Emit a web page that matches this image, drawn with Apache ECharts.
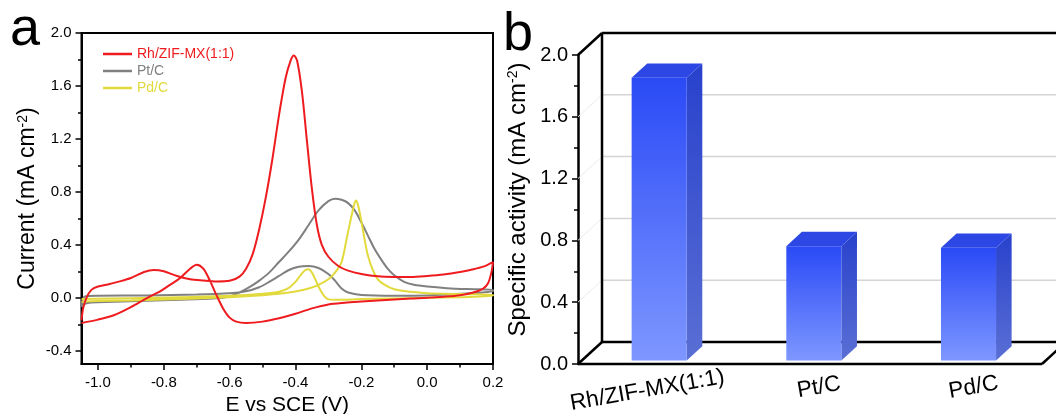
<!DOCTYPE html>
<html>
<head>
<meta charset="utf-8">
<script src="https://cdn.jsdelivr.net/npm/echarts@6/dist/echarts.min.js"></script>
<style>
  html, body { margin: 0; padding: 0; background: #fff; }
  #chart { width: 1056px; height: 414px; }
</style>
</head>
<body>
<div id="chart"></div>
<script>
// ---- CV data: potential (V vs SCE), current density (mA cm-2) ----
const seriesNames = ['Rh/ZIF-MX(1:1)', 'Pt/C', 'Pd/C'];

const rhForward = [
  [-1.05, -0.17], [-1.045, -0.08], [-1.035, 0.0], [-1.02, 0.06], [-1.0, 0.085],
  [-0.97, 0.10], [-0.94, 0.12], [-0.90, 0.15], [-0.86, 0.195], [-0.83, 0.21],
  [-0.80, 0.20], [-0.76, 0.165], [-0.72, 0.14], [-0.68, 0.13], [-0.64, 0.123],
  [-0.60, 0.128], [-0.57, 0.16], [-0.55, 0.22], [-0.53, 0.33], [-0.51, 0.52],
  [-0.49, 0.76], [-0.47, 1.05], [-0.45, 1.38], [-0.43, 1.66], [-0.415, 1.79],
  [-0.405, 1.83], [-0.395, 1.79], [-0.38, 1.55], [-0.365, 1.18], [-0.35, 0.82],
  [-0.335, 0.55], [-0.32, 0.40], [-0.30, 0.31], [-0.27, 0.24], [-0.24, 0.205],
  [-0.20, 0.18], [-0.15, 0.162], [-0.10, 0.158], [-0.05, 0.158], [0.0, 0.165],
  [0.05, 0.176], [0.10, 0.195], [0.14, 0.215], [0.17, 0.235], [0.20, 0.27]
];
const rhReverse = [
  [0.20, 0.27], [0.195, 0.19], [0.185, 0.11], [0.17, 0.07], [0.14, 0.04],
  [0.10, 0.02], [0.05, 0.008], [0.0, 0.0], [-0.05, -0.005], [-0.10, -0.012],
  [-0.15, -0.02], [-0.20, -0.028], [-0.25, -0.037], [-0.30, -0.05], [-0.35, -0.08],
  [-0.40, -0.12], [-0.45, -0.155], [-0.50, -0.18], [-0.55, -0.19], [-0.58, -0.18],
  [-0.60, -0.15], [-0.62, -0.08], [-0.64, 0.02], [-0.66, 0.13], [-0.68, 0.22],
  [-0.70, 0.25], [-0.72, 0.22], [-0.75, 0.15], [-0.78, 0.10], [-0.81, 0.05],
  [-0.85, 0.0], [-0.90, -0.07], [-0.95, -0.13], [-1.0, -0.165], [-1.05, -0.19]
];

const ptForward = [
  [-1.05, -0.07], [-1.04, -0.045], [-1.02, -0.035], [-0.95, -0.03], [-0.85, -0.022],
  [-0.75, -0.015], [-0.65, -0.005], [-0.60, 0.01], [-0.57, 0.04], [-0.54, 0.08],
  [-0.51, 0.13], [-0.48, 0.19], [-0.45, 0.27], [-0.42, 0.35], [-0.39, 0.44],
  [-0.36, 0.55], [-0.33, 0.66], [-0.30, 0.73], [-0.28, 0.748], [-0.26, 0.74],
  [-0.24, 0.715], [-0.22, 0.66], [-0.20, 0.57], [-0.18, 0.47], [-0.16, 0.37],
  [-0.14, 0.29], [-0.12, 0.22], [-0.10, 0.17], [-0.07, 0.12], [-0.04, 0.098],
  [0.0, 0.085], [0.06, 0.073], [0.12, 0.066], [0.20, 0.06]
];
const ptReverse = [
  [0.20, 0.05], [0.10, 0.03], [0.0, 0.018], [-0.10, 0.016], [-0.20, 0.022],
  [-0.24, 0.04], [-0.26, 0.07], [-0.28, 0.13], [-0.30, 0.18], [-0.33, 0.225],
  [-0.36, 0.24], [-0.39, 0.235], [-0.42, 0.21], [-0.45, 0.165], [-0.48, 0.12],
  [-0.51, 0.08], [-0.55, 0.05], [-0.60, 0.035], [-0.70, 0.025], [-0.85, 0.018],
  [-1.0, 0.015], [-1.04, 0.01], [-1.05, -0.07]
];

const pdForward = [
  [-1.05, -0.03], [-1.0, -0.025], [-0.9, -0.02], [-0.8, -0.012], [-0.7, -0.005],
  [-0.6, 0.005], [-0.5, 0.02], [-0.45, 0.03], [-0.40, 0.048], [-0.36, 0.07],
  [-0.33, 0.098], [-0.30, 0.14], [-0.28, 0.19], [-0.26, 0.27], [-0.245, 0.44],
  [-0.235, 0.56], [-0.225, 0.67], [-0.217, 0.735], [-0.21, 0.70], [-0.20, 0.58],
  [-0.19, 0.44], [-0.18, 0.32], [-0.165, 0.21], [-0.15, 0.14], [-0.13, 0.10],
  [-0.10, 0.065], [-0.05, 0.045], [0.0, 0.035], [0.10, 0.028], [0.20, 0.023]
];
const pdReverse = [
  [0.20, 0.015], [0.10, 0.005], [0.0, 0.0], [-0.10, -0.005], [-0.20, -0.01],
  [-0.28, -0.015], [-0.30, -0.012], [-0.31, 0.005], [-0.32, 0.04], [-0.33, 0.085],
  [-0.34, 0.14], [-0.35, 0.19], [-0.36, 0.215], [-0.37, 0.21], [-0.385, 0.17],
  [-0.40, 0.12], [-0.42, 0.075], [-0.45, 0.045], [-0.50, 0.03], [-0.60, 0.015],
  [-0.75, 0.005], [-0.9, -0.003], [-1.05, -0.01]
];

const potentialTicks = [-1.0, -0.8, -0.6, -0.4, -0.2, 0.0, 0.2];
const potentialMinorTicks = [-0.9, -0.7, -0.5, -0.3, -0.1, 0.1];
const currentTicks = [-0.4, 0.0, 0.4, 0.8, 1.2, 1.6, 2.0];
const currentMinorTicks = [-0.2, 0.2, 0.6, 1.0, 1.4, 1.8];

// ---- specific activity bars ----
const catalysts = ['Rh/ZIF-MX(1:1)', 'Pt/C', 'Pd/C'];
const specificActivity = [1.83, 0.74, 0.73];
const wallGridValues = [0.4, 0.8, 1.2, 1.6];

const FONT = '"Liberation Sans", Arial, sans-serif';
const RED = '#ee1b1f', GRAY = '#808080', YELLOW = '#e2da3c';

// depth offset of the pseudo-3D box and the bar's depth span inside it
const DX = 24, DY = -22;
const D0 = 0.16, D1 = 0.81;

function line(ax, ay, bx, by, style) {
  return { type: 'line', shape: { x1: ax, y1: ay, x2: bx, y2: by }, style: style };
}

function renderFrame(params, api) {
  const cs = params.coordSys;
  const x0 = cs.x, y0 = cs.y, x1 = cs.x + cs.width, yb = cs.y + cs.height;
  const W = api.getWidth();
  const dark = { stroke: '#000', lineWidth: 2.5 };
  const kids = [];
  wallGridValues.forEach(function (v) {
    const y = api.coord([0, v])[1];
    kids.push(line(x0, y, x0 + DX, y + DY, { stroke: '#ececec', lineWidth: 1 }));
    kids.push(line(x0 + DX, y + DY, W, y + DY, { stroke: '#d4d4d4', lineWidth: 1.5 }));
  });
  kids.push(line(x0 + DX, y0 + DY, W, y0 + DY, dark));
  kids.push(line(x0 + DX, y0 + DY, x0 + DX, yb + DY, dark));
  kids.push(line(x0, y0, x0 + DX, y0 + DY, dark));
  kids.push(line(x0, yb, x0 + DX, yb + DY, dark));
  kids.push(line(x0 + DX, yb + DY, W, yb + DY, dark));
  kids.push(line(x0, yb, x1, yb, dark));
  kids.push(line(x1, yb, x1 + DX, yb + DY, dark));
  return { type: 'group', children: kids };
}

function grad(c0, c1) {
  return { type: 'linear', x: 0, y: 0, x2: 0, y2: 1,
    colorStops: [{ offset: 0, color: c0 }, { offset: 1, color: c1 }] };
}

function renderBar(params, api) {
  const idx = api.value(0), val = api.value(1);
  const base = api.coord([idx, 0]);
  const top = api.coord([idx, val]);
  const bw = api.size([1, 0])[0] * 0.356;
  const fx = base[0] - bw / 2 + D0 * DX;
  const fy0 = base[1] + D0 * DY, fy1 = top[1] + D0 * DY;
  const ddx = (D1 - D0) * DX, ddy = (D1 - D0) * DY;
  return {
    type: 'group',
    children: [
      { type: 'polygon',
        shape: { points: [[fx + bw, fy1], [fx + bw + ddx, fy1 + ddy], [fx + bw + ddx, fy0 + ddy], [fx + bw, fy0]] },
        style: { fill: grad('#2841cc', '#5a6fd4') } },
      { type: 'polygon',
        shape: { points: [[fx, fy1], [fx + bw, fy1], [fx + bw + ddx, fy1 + ddy], [fx + ddx, fy1 + ddy]] },
        style: { fill: '#2c47e4' } },
      { type: 'rect',
        shape: { x: fx, y: fy1, width: bw, height: fy0 - fy1 },
        style: { fill: grad('#2a4af6', '#7e97ff') } }
    ]
  };
}

const axisBlack = { onZero: false, lineStyle: { color: '#000', width: 2 } };
const supRich = { sup: { fontSize: 14, verticalAlign: 'top', fontFamily: FONT, color: '#000' } };

const option = {
  animation: false,
  backgroundColor: '#fff',
  textStyle: { fontFamily: FONT },
  graphic: [
    { type: 'text', x: 10, y: 30, style: { text: 'a', fontSize: 54, fontFamily: FONT, fill: '#000', verticalAlign: 'middle' } },
    { type: 'text', x: 503, y: 35, style: { text: 'b', fontSize: 54, fontFamily: FONT, fill: '#000', verticalAlign: 'middle' } }
  ],
  legend: {
    orient: 'vertical', left: 103, top: 47, padding: 0,
    icon: 'rect', itemWidth: 29, itemHeight: 2.5, itemGap: 3,
    textStyle: { fontSize: 14, lineHeight: 14, fontFamily: FONT },
    data: [
      { name: seriesNames[0], textStyle: { color: RED } },
      { name: seriesNames[1], textStyle: { color: GRAY } },
      { name: seriesNames[2], textStyle: { color: YELLOW } }
    ]
  },
  grid: [
    { left: 81.5, top: 33, width: 411.5, height: 331, show: true, borderColor: '#000', borderWidth: 2, outerBoundsMode: 'none' },
    { left: 578, top: 55, width: 464, height: 309, outerBoundsMode: 'none' }
  ],
  xAxis: [
    { type: 'value', gridIndex: 0, position: 'bottom', min: -1.05, max: 0.2,
      axisLine: axisBlack, splitLine: { show: false },
      axisTick: { customValues: potentialTicks, length: 6, lineStyle: { color: '#000', width: 1.5 } },
      axisLabel: { customValues: potentialTicks, formatter: v => v.toFixed(1), fontSize: 15, color: '#000', margin: 11 },
      name: 'E vs SCE (V)', nameLocation: 'middle', nameGap: 23,
      nameTextStyle: { fontSize: 21, color: '#000', fontFamily: FONT } },
    { type: 'value', gridIndex: 0, position: 'bottom', min: -1.05, max: 0.2,
      axisLine: { show: false, onZero: false }, splitLine: { show: false }, axisLabel: { show: false },
      axisTick: { customValues: potentialMinorTicks, length: 3.5, lineStyle: { color: '#000', width: 1.5 } } },
    { type: 'category', gridIndex: 1, data: catalysts,
      axisLine: { show: false }, axisTick: { show: false },
      axisLabel: { interval: 0, rotate: 10, align: 'center', verticalAlign: 'middle', margin: 25,
        fontSize: 22.5, color: '#000', fontFamily: FONT,
        formatter: (v, i) => i === 0 ? '{shl|' + v + '}' : '{shr|' + v + '}',
        rich: {
          shl: { fontSize: 22.5, fontFamily: FONT, color: '#000', padding: [0, 16, 0, 0] },
          shr: { fontSize: 22.5, fontFamily: FONT, color: '#000', padding: [0, 0, 0, 18] }
        } } }
  ],
  yAxis: [
    { type: 'value', gridIndex: 0, position: 'left', min: -0.5, max: 2.0,
      axisLine: axisBlack, splitLine: { show: false },
      axisTick: { customValues: currentTicks, length: 6, lineStyle: { color: '#000', width: 1.5 } },
      axisLabel: { customValues: currentTicks, formatter: v => v.toFixed(1), fontSize: 15, color: '#000', margin: 10 },
      name: 'Current (mA cm{sup|-2})', nameLocation: 'middle', nameGap: 42,
      nameTextStyle: { fontSize: 23, color: '#000', fontFamily: FONT, rich: supRich } },
    { type: 'value', gridIndex: 0, position: 'left', min: -0.5, max: 2.0,
      axisLine: { show: false, onZero: false }, splitLine: { show: false }, axisLabel: { show: false },
      axisTick: { customValues: currentMinorTicks, length: 3.5, lineStyle: { color: '#000', width: 1.5 } } },
    { type: 'value', gridIndex: 1, min: 0, max: 2.0, interval: 0.4,
      axisLine: { show: true, onZero: false, lineStyle: { color: '#000', width: 2.5 } }, splitLine: { show: false },
      axisTick: { show: true, length: 6, lineStyle: { color: '#000', width: 1.5 } },
      minorTick: { show: true, splitNumber: 2, length: 4, lineStyle: { color: '#000', width: 1.5 } },
      axisLabel: { formatter: v => v.toFixed(1), fontSize: 20, color: '#000', margin: 10 },
      name: 'Specific activity (mA cm{sup|-2})', nameLocation: 'middle', nameGap: 48,
      nameTextStyle: { fontSize: 24, color: '#000', fontFamily: FONT, padding: [0, 0, 0, 20], rich: supRich } }
  ],
  series: [
    { name: seriesNames[1], type: 'line', xAxisIndex: 0, yAxisIndex: 0, symbol: 'none',
      smooth: 0.3, data: ptForward.concat(ptReverse), lineStyle: { color: GRAY, width: 2 }, itemStyle: { color: GRAY }, z: 2 },
    { name: seriesNames[2], type: 'line', xAxisIndex: 0, yAxisIndex: 0, symbol: 'none',
      smooth: 0.3, data: pdForward.concat(pdReverse), lineStyle: { color: YELLOW, width: 2 }, itemStyle: { color: YELLOW }, z: 3 },
    { name: seriesNames[0], type: 'line', xAxisIndex: 0, yAxisIndex: 0, symbol: 'none',
      smooth: 0.3, data: rhForward.concat(rhReverse), lineStyle: { color: RED, width: 2 }, itemStyle: { color: RED }, z: 4 },
    { type: 'custom', xAxisIndex: 2, yAxisIndex: 2, data: [[0, 0]], renderItem: renderFrame,
      clip: false, silent: true, z: 1 },
    { type: 'custom', xAxisIndex: 2, yAxisIndex: 2,
      data: specificActivity.map((v, i) => [i, v]), encode: { x: 0, y: 1 },
      renderItem: renderBar, clip: false, z: 3 }
  ]
};

const chart = echarts.init(document.getElementById('chart'), null, { renderer: 'canvas' });
chart.setOption(option);
</script>
</body>
</html>
